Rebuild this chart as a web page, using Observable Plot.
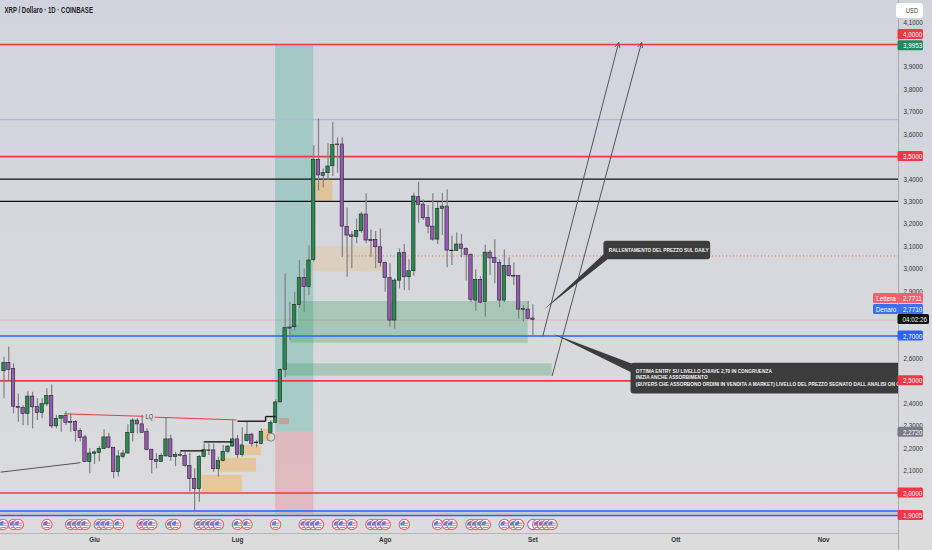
<!DOCTYPE html>
<html><head><meta charset="utf-8">
<script src="https://cdn.jsdelivr.net/npm/d3@7"></script>
<script src="https://cdn.jsdelivr.net/npm/@observablehq/plot@0.6"></script>
<style>html,body{margin:0;padding:0;background:#d8d9de;overflow:hidden}</style>
</head><body><div id="chart"></div>
<script>
const startDay = Date.UTC(2025, 4, 13);
const t = i => new Date(startDay + i * 864e5);
const x0 = t(-0.735), x1 = t(187.72);

// daily candles from 13 May (null = no candle drawn in the picture)
const opens = [2.543,2.580,2.553,2.384,2.379,2.353,2.430,2.383,2.356,2.395,2.433,2.297,2.331,2.344,2.317,2.317,2.276,2.248,2.138,2.175,2.178,2.197,2.248,2.202,2.093,2.160,2.176,2.267,2.323,2.306,2.273,2.193,2.148,2.139,2.163,2.239,2.160,2.170,2.166,2.121,2.063,2.017,2.160,2.190,2.190,2.106,2.142,2.184,2.207,2.239,2.169,2.231,2.260,2.225,2.218,null,2.268,2.313,2.404,2.549,2.738,2.739,2.839,2.959,2.919,3.039,3.485,3.414,3.426,3.457,3.554,3.554,3.187,3.149,3.142,3.167,3.242,3.129,3.129,3.096,3.025,2.959,2.769,2.947,3.071,2.962,2.989,3.319,3.286,3.227,3.188,3.130,3.267,3.277,3.081,3.080,3.108,3.089,3.062,2.858,2.950,2.852,3.072,3.049,3.026,2.858,3.013,2.968,2.968,2.820,2.818,2.778];
const closes = [2.580,2.549,2.385,2.380,2.353,2.430,2.382,2.356,2.396,2.433,2.297,2.331,2.343,2.312,2.313,2.276,2.245,2.138,2.176,2.181,2.197,2.248,2.202,2.093,2.163,2.176,2.268,2.323,2.306,2.268,2.191,2.147,2.139,2.166,2.239,2.160,2.170,2.166,2.121,2.063,2.017,2.160,2.191,2.187,2.106,2.142,2.184,2.207,2.239,2.169,2.212,2.260,2.219,2.222,2.273,null,2.313,2.404,2.549,2.735,2.733,2.839,2.959,2.918,3.037,3.485,3.416,3.427,3.456,3.551,3.551,3.188,3.148,3.142,3.169,3.242,3.126,3.123,3.096,3.025,2.959,2.769,2.947,3.069,2.962,2.989,3.322,3.285,3.225,3.188,3.130,3.267,3.277,3.081,3.078,3.108,3.089,3.062,2.861,2.950,2.849,3.072,3.046,3.026,2.858,3.013,2.967,2.965,2.818,2.817,2.777,2.772];
const highs = [2.605,2.650,2.576,2.442,2.390,2.452,2.449,2.420,2.420,2.465,2.482,2.346,2.346,2.363,2.353,2.323,2.286,2.257,2.197,2.187,2.207,2.282,2.267,2.202,2.190,2.190,2.304,2.331,2.331,2.346,2.286,2.193,2.175,2.175,2.335,2.257,2.182,2.182,2.182,2.178,2.108,2.167,2.219,2.219,2.219,2.160,2.212,2.212,2.328,2.257,2.291,2.316,2.267,2.234,2.286,null,2.323,2.416,2.554,2.977,2.851,2.895,3.037,2.999,3.103,3.549,3.668,3.445,3.557,3.653,3.584,3.584,3.271,3.166,3.222,3.252,3.334,3.173,3.166,3.178,3.030,3.022,2.955,3.089,3.108,3.040,3.337,3.386,3.307,3.282,3.334,3.297,3.337,3.352,3.145,3.159,3.153,3.093,3.066,2.995,2.965,3.105,3.081,3.129,3.040,3.084,3.049,3.026,2.968,2.836,2.854,2.839];
const lows = [2.420,2.500,2.353,2.316,2.300,2.300,2.286,2.323,2.331,2.386,2.286,2.286,2.271,2.301,2.271,2.227,2.227,2.136,2.086,2.127,2.138,2.193,2.197,2.063,2.071,2.153,2.175,2.227,2.264,2.267,2.187,2.086,2.108,2.136,2.160,2.142,2.118,2.160,2.115,2.004,1.912,1.959,2.157,2.167,2.093,2.071,2.138,2.175,2.205,2.153,2.160,2.227,2.205,2.202,2.216,null,2.264,2.309,2.401,2.514,2.680,2.724,2.825,2.806,2.880,3.029,3.346,3.360,3.393,3.411,3.426,3.051,2.962,3.000,3.111,3.158,3.111,3.051,3.000,3.007,2.895,2.739,2.730,2.910,2.903,2.903,2.967,3.203,3.215,3.156,3.123,3.108,3.148,3.004,3.014,3.078,3.049,2.945,2.849,2.811,2.843,2.784,2.970,2.933,2.826,2.849,2.962,2.925,2.775,2.762,2.772,2.701];

// horizontal levels
const redLevels = [4.0, 3.5, 2.5, 2.0];
const blackLevels = [3.4, 3.3];
const blueLevels = [2.7, 1.92, 1.9];

// zones [dayStart, dayEnd, priceTop, priceBottom]
const greenZones = [[61.8,110,2.854,2.668],[60.1,61.8,2.75,2.668],[59.1,115.04,2.576,2.521]];
const orangeZones = [[41.6,50,2.078,2.004],[45.4,53,2.154,2.093],[50.3,54,2.212,2.167],[54,56,2.283,2.230],[65.5,69,3.393,3.301]];
const mutedZones = [[57.8,59.9,2.332,2.305]];
const tanZones = [[65,79.6,3.099,2.987]];

// structure segments [dayStart, priceStart, dayEnd, priceEnd]
const blackSegments = [[37,2.188,41.9,2.188],[41.9,2.228,48,2.228],[49,2.320,54.9,2.320],[54.9,2.341,57,2.341],[54.9,2.341,54.9,2.320]];
const redSegments = [[12.6,2.353,29.3,2.342],[31.6,2.338,48.8,2.326]];
const greySegments = [[-0.73,2.093,16.05,2.135]];
const arrowSegments = [[113.07,2.70,129,4.009],[115.04,2.523,133.8,4.009]];

// economic event days (offset from 13 May)
const eventDays = [-0.2,2,3,9,14,15,16,17,20,21,22,24,29,30,31,35,36,41,42,43,44,45,49,51,57,63,64,65,66,70,71,73,77,78,79,80,84,91,93,94,98,99,100,101,105,107,108,112,113,114,115];
const dividendDay = 111;

// axis
const priceTicks = [4.1,3.9,3.8,3.7,3.6,3.4,3.3,3.2,3.1,3.0,2.9,2.6,2.4,2.3,2.2,2.1];
const monthDates = ["2025-06-01","2025-07-01","2025-08-01","2025-09-01","2025-10-01","2025-11-01"];
const monthLabels = ["Giu","Lug","Ago","Set","Ott","Nov"];

// price tags on the axis
const tagPrice = [4.045,3.994,3.5,2.867,2.818,2.70,2.5,2.271,2.0,1.90];
const tagText = ["4,0000","3,9953","3,5000","2,7711","2,7710","2,7000","2,5000","2,2720","2,0000","1,9005"];
const tagFill = ["#f23645","#1f8a5f","#f23645","#f25f6d","#3a70f2","#2962ff","#f23645","#787b86","#f23645","#f23645"];

const font = '"Liberation Sans",sans-serif';
const candles = opens.map((o,i)=>({date:t(i),o,c:closes[i],h:highs[i],l:lows[i]})).filter(d=>d.o!=null);
const ups = candles.filter(d=>d.c>=d.o), downs = candles.filter(d=>d.c<d.o);
const tags = tagPrice.map((p,i)=>({p,text:tagText[i],fill:tagFill[i]}));
const seg = a => ({x1:t(a[0]),y1:a[1],x2:t(a[2]),y2:a[3]});
const zone = a => ({x1:t(a[0]),x2:t(a[1]),y1:a[2],y2:a[3]});
const sameMark = {x1:"x1",x2:"x2",y1:"y1",y2:"y2"};

const stripes = {draw(c){ for (const y of [-1.4,0.8,3]) { const w=Math.sqrt(Math.max(0,16-y*y)); c.moveTo(-w,y-.55); c.lineTo(w,y-.55); c.lineTo(w,y+.55); c.lineTo(-w,y+.55); c.closePath(); } }};
const wedge = {draw(c){ c.moveTo(0,0.4); c.lineTo(-3.9,0.4); c.arc(0,0.4,3.9,Math.PI,Math.PI*1.55); c.closePath(); }};
const iconBase = {x:d=>d,frameAnchor:"bottom",dy:-9};
const eventIcon = i => [
  Plot.dot([t(i)],{...iconBase,r:5.2,fill:"#fff",stroke:"#ee5f6e",strokeWidth:1.1}),
  Plot.dot([t(i)],{...iconBase,symbol:stripes,fill:"#f0737f",stroke:"none"}),
  Plot.dot([t(i)],{...iconBase,symbol:wedge,fill:"#5b7fe2",stroke:"none"})
];

const poly = (pts,fill) => Plot.line(pts.map(p=>({x:t(p[0]),y:p[1]})),{x:"x",y:"y",fill,stroke:"none",curve:"linear",clip:true});
const noteStyle = {fontFamily:font,fontWeight:700,fontSize:5.9,textAnchor:"start",fill:"#f2f2f2",clip:true};

const chart = Plot.plot({
  width:932,height:550,marginTop:0,marginLeft:0,marginRight:34,marginBottom:17,
  style:{background:"linear-gradient(#d1d4dc,#dcdcdd)",display:"block",overflow:"hidden"},
  x:{type:"utc",domain:[x0,x1],range:[0,898],axis:null},
  y:{domain:[1.8194,4.1962],range:[533,0],axis:null},
  marks:[
    // position tool
    Plot.rect([{x1:t(57),x2:t(65),y1:4.0,y2:2.272}],{...sameMark,fill:"#2ea88f",fillOpacity:.29}),
    Plot.rect([{x1:t(57),x2:t(65),y1:2.272,y2:1.905}],{...sameMark,fill:"#f23645",fillOpacity:.2}),
    // zones
    Plot.rect(greenZones.map(zone),{...sameMark,fill:"#2f9a55",fillOpacity:.28}),
    Plot.rect(orangeZones.map(zone),{...sameMark,fill:"#ff9800",fillOpacity:.3}),
    Plot.rect(mutedZones.map(zone),{...sameMark,fill:"#d08a80",fillOpacity:.6}),
    Plot.rect(tanZones.map(zone),{...sameMark,fill:"#ff9800",fillOpacity:.13}),
    Plot.rect([{x1:x0,x2:x1,y1:1.92,y2:1.90}],{...sameMark,fill:"#9aa0aa",fillOpacity:.25}),
    // levels
    Plot.ruleY([3.665],{stroke:"#b4b8d2",strokeWidth:1.2}),
    Plot.ruleY([2.7711],{stroke:"#f23645",strokeOpacity:.2,strokeWidth:1}),
    Plot.ruleY([3.057],{x1:()=>t(72.3),x2:()=>x1,stroke:"#ef6c2c",strokeWidth:1,strokeDasharray:"1 2.5"}),
    Plot.ruleY(redLevels,{stroke:"#f23645",strokeWidth:1.7}),
    Plot.ruleY(blackLevels,{stroke:"#111",strokeWidth:1.2}),
    Plot.ruleY(blueLevels,{stroke:"#2962ff",strokeWidth:1.6}),
    // drawn lines
    Plot.link(greySegments.map(seg),{...sameMark,stroke:"#555",strokeWidth:1,clip:true}),
    Plot.link(redSegments.map(seg),{...sameMark,stroke:"#f23645",strokeWidth:1}),
    Plot.text(["LQ"],{x:()=>t(30.5),y:()=>2.34,fontFamily:font,fontSize:7,fill:"#444"}),
    // candles
    Plot.ruleX(candles,{x:"date",y1:"l",y2:"h",stroke:"#7f8085",strokeWidth:1.2}),
    Plot.rect(ups,{x1:"date",x2:"date",y1:"o",y2:"c",insetLeft:-1.7,insetRight:-1.7,fill:"#2a8a4e",stroke:"#20262a",strokeWidth:.6}),
    Plot.rect(downs,{x1:"date",x2:"date",y1:"o",y2:"c",insetLeft:-1.7,insetRight:-1.7,fill:"#9a58b4",stroke:"#20262a",strokeWidth:.6}),
    Plot.link(blackSegments.map(seg),{...sameMark,stroke:"#1a1a1a",strokeWidth:1.4}),
    Plot.dot([{x:t(56),y:2.249}],{x:"x",y:"y",r:4,stroke:"#777",strokeWidth:.9,fill:"none"}),
    // long arrows
    Plot.arrow(arrowSegments.map(seg),{...sameMark,bend:false,stroke:"#555",strokeWidth:1,headLength:8,headAngle:50}),
    // call-outs
    poly([[113.3,2.818],[126,3.068],[126.6,3.041]],"#3c3c3c"),
    Plot.rect([{x1:t(125.9),x2:t(148.3),y1:3.123,y2:3.040}],{...sameMark,fill:"#3c3c3c",rx:3}),
    Plot.text(["RALLENTAMENTO DEL PREZZO SUL DAILY"],{...noteStyle,x:()=>t(126.9),y:()=>3.081}),
    poly([[115.3,2.709],[131.7,2.578],[131.7,2.537]],"#3c3c3c"),
    Plot.rect([{x1:t(131.6),x2:t(200),y1:2.579,y2:2.442}],{...sameMark,fill:"#3c3c3c",rx:3,clip:true}),
    Plot.text(["OTTIMA ENTRY SU LIVELLO CHIAVE 2,70 IN CONGRUENZA"],{...noteStyle,x:()=>t(132.6),y:()=>2.542}),
    Plot.text(["INIZIA ANCHE ASSORBIMENTO"],{...noteStyle,x:()=>t(132.6),y:()=>2.515}),
    Plot.text(["(BUYERS CHE ASSORBONO ORDINI IN VENDITA A MARKET) LIVELLO DEL PREZZO SEGNATO DALL ANALISI ON CHAIN"],{...noteStyle,x:()=>t(132.6),y:()=>2.485}),
    // events
    Plot.dot([t(dividendDay)],{...iconBase,r:5.2,fill:"#fff",stroke:"#a05ab8",strokeWidth:1.1}),
    ...eventDays.flatMap(eventIcon),
    // axes lines
    Plot.ruleX([x1],{stroke:"#a9abb0",strokeWidth:1,insetBottom:-17}),
    Plot.ruleY([1.8194],{stroke:"#b5b6ba",strokeWidth:1}),
    // labels
    Plot.text(monthDates,{x:d=>new Date(d),text:(d,i)=>monthLabels[i],frameAnchor:"bottom",dy:8,fontFamily:font,fontSize:7.8,fontWeight:700,fill:"#333"}),
    Plot.text(priceTicks,{x:()=>x1,y:d=>d,text:d=>d.toFixed(4).replace(".",","),dx:5,textAnchor:"start",fontFamily:font,fontSize:7.8,fill:"#333"}),
    Plot.text(["XRP / Dollaro · 1D · COINBASE"],{frameAnchor:"top-left",dx:4,dy:6,fontFamily:font,fontSize:8.5,fontWeight:700,fill:"#222",textAnchor:"start"}),
    // tags
    Plot.rect(tags,{x1:()=>x1,x2:()=>x1,y1:"p",y2:"p",insetLeft:-.5,insetRight:-25,insetTop:-5,insetBottom:-5,rx:1.5,fill:d=>d.fill}),
    Plot.text(tags,{x:()=>x1,y:"p",text:"text",dx:4.5,textAnchor:"start",fontFamily:font,fontSize:7.8,fill:"#fff"}),
    Plot.rect([{y:2.774}],{x1:()=>x1,x2:()=>x1,y1:"y",y2:"y",insetLeft:-.5,insetRight:-31,insetTop:-5,insetBottom:-5,rx:1.5,fill:"#111"}),
    Plot.text(["04:02:26"],{x:()=>x1,y:()=>2.774,dx:4,textAnchor:"start",fontFamily:font,fontSize:7.8,fill:"#eee"}),
    Plot.rect([{y:2.867,f:"#f25f6d"},{y:2.818,f:"#3a70f2"}],{x1:()=>x1,x2:()=>x1,y1:"y",y2:"y",insetLeft:-25,insetRight:0,insetTop:-5,insetBottom:-5,rx:1.5,fill:d=>d.f}),
    Plot.text([{y:2.867,s:"Lettera"},{y:2.818,s:"Denaro"}],{x:()=>x1,y:"y",text:"s",dx:-12.5,fontFamily:font,fontSize:7.8,fill:"#fff"}),
    Plot.rect([{y:4.149}],{x1:()=>x1,x2:()=>x1,y1:"y",y2:"y",insetLeft:-2,insetRight:-25,insetTop:-7.5,insetBottom:-7.5,rx:3,fill:"#fff"}),
    Plot.text(["USD"],{x:()=>x1,y:()=>4.149,dx:13.5,fontFamily:font,fontSize:7,fill:"#333"})
  ]
});
document.getElementById("chart").append(chart);
// the reference's lettering is horizontally narrow: condense every label to match
chart.querySelectorAll("text").forEach(el => {
  const k = el.textContent.startsWith("XRP") ? 0.71 : 0.81;
  el.setAttribute("textLength", el.getComputedTextLength() * k);
  el.setAttribute("lengthAdjust", "spacingAndGlyphs");
});
</script></body></html>
